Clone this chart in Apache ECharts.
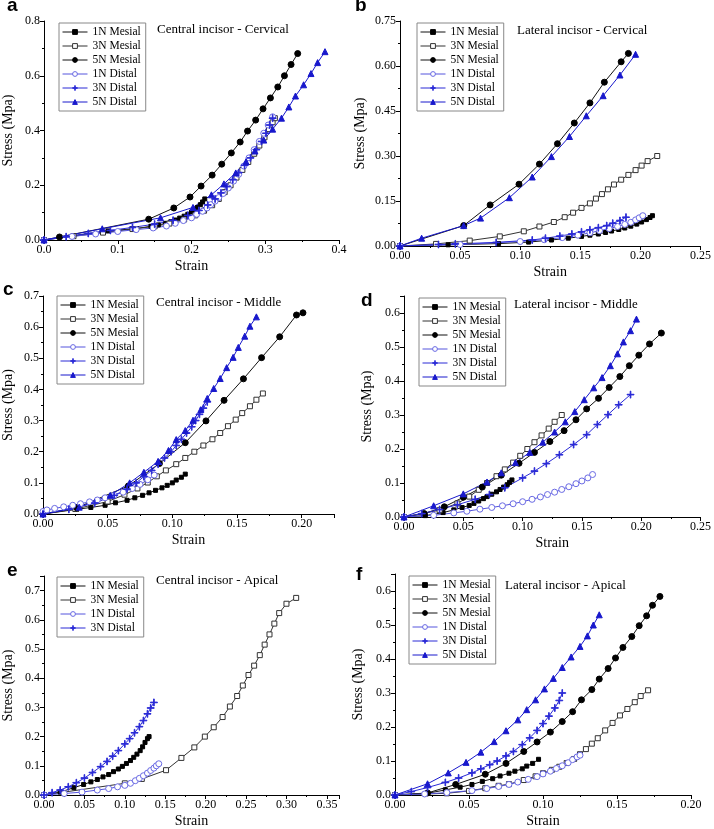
<!DOCTYPE html>
<html><head><meta charset="utf-8">
<script src="https://cdn.jsdelivr.net/npm/echarts@6/dist/echarts.min.js"></script>
<style>html,body{margin:0;padding:0;background:#fff}#c{width:714px;height:829px}</style>
</head><body><div id="c"></div>
<script>
// ---------------- DATA (strain, stress) ----------------
// a: Central incisor - Cervical
const a_1N_Mesial = [[0,0],[0.04,0.016],[0.087,0.033],[0.125,0.042],[0.145,0.05],[0.155,0.055],[0.165,0.061],[0.172,0.067],[0.178,0.073],[0.184,0.08],[0.19,0.087],[0.195,0.094],[0.2,0.102],[0.204,0.11],[0.208,0.119],[0.212,0.129],[0.215,0.139],[0.218,0.15]];
const a_3N_Mesial = [[0,0],[0.04,0.014],[0.08,0.027],[0.12,0.04],[0.15,0.05],[0.17,0.06],[0.19,0.075],[0.205,0.09],[0.217,0.107],[0.228,0.127],[0.237,0.15],[0.245,0.175],[0.253,0.2],[0.261,0.228],[0.269,0.256],[0.277,0.285],[0.285,0.315],[0.292,0.345],[0.299,0.375],[0.305,0.405],[0.31,0.43],[0.313,0.445]];
const a_5N_Mesial = [[0,0],[0.021,0.011],[0.142,0.076],[0.176,0.117],[0.198,0.157],[0.213,0.197],[0.228,0.237],[0.241,0.277],[0.254,0.318],[0.266,0.358],[0.276,0.398],[0.287,0.438],[0.297,0.479],[0.307,0.519],[0.317,0.559],[0.326,0.6],[0.335,0.641],[0.344,0.681]];
const a_1N_Distal = [[0,0],[0.038,0.013],[0.07,0.022],[0.1,0.031],[0.125,0.038],[0.148,0.044],[0.166,0.051],[0.178,0.061],[0.189,0.071],[0.2,0.081],[0.207,0.094],[0.215,0.105],[0.221,0.117],[0.226,0.129],[0.232,0.142],[0.237,0.155],[0.243,0.17],[0.25,0.19],[0.257,0.215],[0.264,0.24],[0.271,0.27],[0.278,0.3],[0.285,0.33],[0.292,0.36],[0.298,0.39],[0.304,0.42],[0.31,0.45]];
const a_3N_Distal = [[0,0],[0.03,0.012],[0.06,0.024],[0.09,0.035],[0.12,0.046],[0.15,0.058],[0.175,0.072],[0.195,0.09],[0.21,0.108],[0.222,0.128],[0.232,0.15],[0.24,0.172],[0.248,0.195],[0.256,0.22],[0.264,0.246],[0.272,0.273],[0.28,0.3],[0.288,0.33],[0.295,0.36],[0.301,0.39],[0.306,0.42],[0.31,0.445]];
const a_5N_Distal = [[0,0],[0.079,0.041],[0.158,0.081],[0.202,0.119],[0.227,0.165],[0.244,0.205],[0.26,0.245],[0.274,0.286],[0.286,0.325],[0.298,0.365],[0.31,0.405],[0.322,0.445],[0.332,0.486],[0.341,0.526],[0.352,0.567],[0.362,0.608],[0.371,0.648],[0.381,0.688]];
// b: Lateral incisor - Cervical
const b_1N_Mesial = [[0,0],[0.04,0.004],[0.082,0.008],[0.107,0.013],[0.126,0.02],[0.14,0.026],[0.151,0.032],[0.158,0.036],[0.165,0.04],[0.171,0.045],[0.176,0.05],[0.182,0.055],[0.187,0.06],[0.192,0.066],[0.197,0.073],[0.201,0.08],[0.205,0.088],[0.208,0.095],[0.21,0.101]];
const b_3N_Mesial = [[0,0],[0.03,0.007],[0.058,0.018],[0.083,0.032],[0.103,0.049],[0.116,0.065],[0.128,0.08],[0.137,0.096],[0.144,0.111],[0.151,0.127],[0.158,0.142],[0.163,0.158],[0.168,0.173],[0.173,0.189],[0.178,0.205],[0.184,0.221],[0.19,0.237],[0.196,0.253],[0.201,0.268],[0.206,0.283],[0.214,0.3]];
const b_5N_Mesial = [[0,0],[0.053,0.068],[0.075,0.137],[0.099,0.206],[0.116,0.273],[0.131,0.341],[0.145,0.41],[0.158,0.477],[0.17,0.546],[0.184,0.614],[0.19,0.642]];
const b_1N_Distal = [[0,0],[0.05,0.005],[0.1,0.015],[0.12,0.021],[0.135,0.028],[0.148,0.036],[0.158,0.044],[0.166,0.051],[0.174,0.058],[0.181,0.065],[0.187,0.072],[0.192,0.079],[0.196,0.087],[0.199,0.094],[0.202,0.101]];
const b_3N_Distal = [[0,0],[0.032,0.005],[0.046,0.007],[0.08,0.012],[0.11,0.02],[0.121,0.026],[0.133,0.033],[0.143,0.04],[0.151,0.047],[0.158,0.054],[0.165,0.061],[0.172,0.068],[0.177,0.076],[0.183,0.085],[0.188,0.096]];
const b_5N_Distal = [[0,0],[0.018,0.026],[0.053,0.068],[0.067,0.093],[0.091,0.161],[0.11,0.23],[0.126,0.298],[0.141,0.365],[0.155,0.434],[0.169,0.501],[0.183,0.57],[0.196,0.639]];
// c: Central incisor - Middle
const c_1N_Mesial = [[0,0],[0.026,0.015],[0.037,0.021],[0.048,0.028],[0.056,0.036],[0.065,0.044],[0.071,0.052],[0.077,0.06],[0.082,0.068],[0.087,0.076],[0.092,0.084],[0.096,0.092],[0.1,0.1],[0.103,0.109],[0.107,0.118],[0.11,0.128]];
const c_3N_Mesial = [[0,0],[0.025,0.016],[0.05,0.04],[0.063,0.062],[0.073,0.082],[0.081,0.101],[0.088,0.121],[0.095,0.14],[0.103,0.16],[0.11,0.18],[0.117,0.2],[0.124,0.22],[0.131,0.24],[0.137,0.26],[0.143,0.282],[0.149,0.303],[0.154,0.324],[0.16,0.346],[0.165,0.367],[0.17,0.387]];
const c_5N_Mesial = [[0,0],[0.026,0.02],[0.066,0.09],[0.09,0.162],[0.11,0.229],[0.126,0.299],[0.14,0.365],[0.155,0.434],[0.169,0.502],[0.183,0.569],[0.196,0.639],[0.201,0.646]];
const c_1N_Distal = [[0,0.008],[0.003,0.013],[0.009,0.018],[0.016,0.023],[0.023,0.028],[0.029,0.033],[0.036,0.039],[0.042,0.045],[0.048,0.052],[0.055,0.06],[0.062,0.07],[0.069,0.082],[0.075,0.095],[0.081,0.11],[0.086,0.125]];
const c_3N_Distal = [[0,0],[0.02,0.015],[0.04,0.035],[0.055,0.06],[0.065,0.08],[0.072,0.1],[0.078,0.12],[0.084,0.14],[0.089,0.16],[0.094,0.18],[0.099,0.2],[0.103,0.22],[0.107,0.24],[0.111,0.26],[0.115,0.28],[0.118,0.3],[0.121,0.32],[0.124,0.34],[0.127,0.36]];
const c_5N_Distal = [[0,0],[0.028,0.022],[0.052,0.06],[0.067,0.1],[0.078,0.134],[0.089,0.169],[0.097,0.204],[0.103,0.239],[0.11,0.268],[0.116,0.301],[0.122,0.335],[0.127,0.371],[0.132,0.403],[0.137,0.435],[0.142,0.47],[0.147,0.503],[0.151,0.535],[0.156,0.571],[0.16,0.603],[0.165,0.633]];
// d: Lateral incisor - Middle
const d_1N_Mesial = [[0,0],[0.018,0.004],[0.033,0.013],[0.042,0.021],[0.049,0.028],[0.055,0.034],[0.059,0.04],[0.063,0.047],[0.067,0.054],[0.07,0.06],[0.074,0.067],[0.078,0.074],[0.081,0.081],[0.084,0.088],[0.087,0.095],[0.089,0.102],[0.091,0.109]];
const d_3N_Mesial = [[0,0],[0.03,0.02],[0.045,0.04],[0.055,0.06],[0.063,0.08],[0.07,0.1],[0.078,0.12],[0.085,0.14],[0.092,0.16],[0.098,0.18],[0.104,0.2],[0.11,0.22],[0.116,0.24],[0.122,0.26],[0.127,0.28],[0.133,0.3]];
const d_5N_Mesial = [[0,0],[0.017,0.01],[0.034,0.03],[0.05,0.058],[0.066,0.088],[0.082,0.123],[0.097,0.158],[0.11,0.19],[0.123,0.222],[0.135,0.254],[0.145,0.286],[0.154,0.318],[0.164,0.349],[0.173,0.381],[0.182,0.413],[0.19,0.445],[0.198,0.476],[0.207,0.509],[0.217,0.541]];
const d_1N_Distal = [[0,0],[0.025,0.005],[0.042,0.012],[0.053,0.017],[0.064,0.023],[0.074,0.028],[0.083,0.033],[0.092,0.039],[0.1,0.045],[0.108,0.052],[0.115,0.059],[0.121,0.066],[0.127,0.073],[0.133,0.081],[0.139,0.089],[0.145,0.098],[0.15,0.106],[0.155,0.115],[0.159,0.125]];
const d_3N_Distal = [[0,0],[0.015,0.01],[0.03,0.022],[0.045,0.036],[0.06,0.052],[0.072,0.066],[0.085,0.086],[0.1,0.115],[0.11,0.135],[0.12,0.157],[0.131,0.183],[0.143,0.213],[0.154,0.242],[0.163,0.272],[0.172,0.301],[0.181,0.33],[0.191,0.36]];
const d_5N_Distal = [[0,0],[0.025,0.033],[0.05,0.068],[0.07,0.103],[0.082,0.13],[0.094,0.16],[0.106,0.19],[0.117,0.22],[0.127,0.25],[0.136,0.28],[0.144,0.31],[0.152,0.345],[0.16,0.38],[0.167,0.41],[0.174,0.445],[0.18,0.48],[0.185,0.515],[0.191,0.548],[0.196,0.582]];
// e: Central incisor - Apical
const e_1N_Mesial = [[0,0],[0.02,0.01],[0.037,0.025],[0.049,0.036],[0.058,0.045],[0.066,0.053],[0.073,0.062],[0.08,0.07],[0.086,0.08],[0.092,0.089],[0.097,0.098],[0.102,0.108],[0.107,0.118],[0.111,0.129],[0.115,0.14],[0.119,0.152],[0.122,0.165],[0.125,0.18],[0.128,0.193],[0.13,0.2]];
const e_3N_Mesial = [[0,0],[0.1,0.04],[0.121,0.055],[0.151,0.085],[0.17,0.127],[0.186,0.163],[0.199,0.2],[0.21,0.232],[0.221,0.267],[0.23,0.303],[0.239,0.339],[0.246,0.375],[0.253,0.411],[0.26,0.443],[0.267,0.479],[0.273,0.515],[0.279,0.55],[0.285,0.587],[0.291,0.623],[0.3,0.655],[0.312,0.675]];
const e_1N_Distal = [[0,0],[0.025,0.005],[0.047,0.01],[0.066,0.017],[0.08,0.022],[0.091,0.028],[0.1,0.033],[0.107,0.04],[0.113,0.049],[0.118,0.057],[0.123,0.066],[0.128,0.075],[0.132,0.084],[0.136,0.092],[0.139,0.1],[0.142,0.107]];
const e_3N_Distal = [[0,0],[0.01,0.008],[0.02,0.017],[0.03,0.028],[0.04,0.042],[0.05,0.058],[0.06,0.077],[0.07,0.097],[0.078,0.115],[0.085,0.133],[0.092,0.152],[0.1,0.175],[0.106,0.193],[0.112,0.213],[0.118,0.234],[0.123,0.255],[0.128,0.278],[0.132,0.298],[0.136,0.317]];
// f: Lateral incisor - Apical
const f_1N_Mesial = [[0,0],[0.022,0.005],[0.034,0.015],[0.044,0.023],[0.052,0.031],[0.059,0.04],[0.066,0.048],[0.071,0.056],[0.077,0.064],[0.081,0.07],[0.086,0.077],[0.089,0.085],[0.093,0.093],[0.097,0.105]];
const f_3N_Mesial = [[0,0],[0.035,0.005],[0.05,0.012],[0.061,0.02],[0.07,0.027],[0.077,0.032],[0.087,0.044],[0.095,0.055],[0.1,0.064],[0.106,0.074],[0.111,0.083],[0.116,0.094],[0.121,0.106],[0.125,0.12],[0.129,0.135],[0.133,0.151],[0.137,0.167],[0.142,0.19],[0.147,0.212],[0.152,0.234],[0.157,0.253],[0.162,0.273],[0.166,0.291],[0.171,0.308]];
const f_5N_Mesial = [[0,0],[0.022,0.006],[0.041,0.031],[0.061,0.061],[0.075,0.093],[0.087,0.128],[0.096,0.156],[0.105,0.185],[0.113,0.216],[0.12,0.245],[0.126,0.28],[0.133,0.31],[0.138,0.341],[0.144,0.372],[0.149,0.403],[0.154,0.434],[0.16,0.466],[0.165,0.498],[0.17,0.527],[0.174,0.558],[0.179,0.584]];
const f_1N_Distal = [[0,0],[0.02,0.003],[0.035,0.007],[0.052,0.013],[0.062,0.019],[0.07,0.025],[0.077,0.031],[0.083,0.038],[0.09,0.046],[0.096,0.054],[0.1,0.062],[0.105,0.07],[0.109,0.078],[0.113,0.086],[0.117,0.095],[0.12,0.104],[0.123,0.112],[0.125,0.117]];
const f_3N_Distal = [[0,0],[0.011,0.01],[0.022,0.022],[0.034,0.037],[0.043,0.05],[0.052,0.065],[0.058,0.077],[0.064,0.089],[0.069,0.1],[0.075,0.115],[0.08,0.128],[0.086,0.148],[0.091,0.168],[0.096,0.19],[0.1,0.21],[0.104,0.232],[0.108,0.256],[0.111,0.278],[0.113,0.3]];
const f_5N_Distal = [[0,0],[0.022,0.033],[0.036,0.065],[0.048,0.096],[0.058,0.126],[0.067,0.157],[0.075,0.189],[0.083,0.221],[0.089,0.251],[0.095,0.28],[0.101,0.312],[0.107,0.343],[0.113,0.375],[0.119,0.406],[0.125,0.437],[0.13,0.468],[0.134,0.5],[0.138,0.53]];

// Axis ranges [min, max, interval, decimals]
const a_xAxis = [0, 0.4, 0.1, 1],   a_yAxis = [0, 0.8, 0.2, 1];
const b_xAxis = [0, 0.25, 0.05, 2], b_yAxis = [0, 0.75, 0.15, 2];
const c_xAxis = [0, 0.225, 0.05, 2], c_yAxis = [0, 0.7, 0.1, 1];
const d_xAxis = [0, 0.25, 0.05, 2], d_yAxis = [0, 0.65, 0.1, 1];
const e_xAxis = [0, 0.365, 0.05, 2], e_yAxis = [0, 0.75, 0.1, 1];
const f_xAxis = [0, 0.2, 0.05, 2],  f_yAxis = [0, 0.65, 0.1, 1];

const seriesNames = ['1N Mesial','3N Mesial','5N Mesial','1N Distal','3N Distal','5N Distal'];
const titles = ['Central incisor - Cervical','Lateral incisor - Cervical','Central incisor - Middle','Lateral incisor - Middle','Central incisor - Apical','Lateral incisor - Apical'];
const letters = ['a','b','c','d','e','f'];

const panelData = [
  {names: seriesNames, data: [a_1N_Mesial,a_3N_Mesial,a_5N_Mesial,a_1N_Distal,a_3N_Distal,a_5N_Distal], x: a_xAxis, y: a_yAxis},
  {names: seriesNames, data: [b_1N_Mesial,b_3N_Mesial,b_5N_Mesial,b_1N_Distal,b_3N_Distal,b_5N_Distal], x: b_xAxis, y: b_yAxis},
  {names: seriesNames, data: [c_1N_Mesial,c_3N_Mesial,c_5N_Mesial,c_1N_Distal,c_3N_Distal,c_5N_Distal], x: c_xAxis, y: c_yAxis},
  {names: seriesNames, data: [d_1N_Mesial,d_3N_Mesial,d_5N_Mesial,d_1N_Distal,d_3N_Distal,d_5N_Distal], x: d_xAxis, y: d_yAxis},
  {names: ['1N Mesial','3N Mesial','1N Distal','3N Distal'], data: [e_1N_Mesial,e_3N_Mesial,e_1N_Distal,e_3N_Distal], x: e_xAxis, y: e_yAxis},
  {names: seriesNames, data: [f_1N_Mesial,f_3N_Mesial,f_5N_Mesial,f_1N_Distal,f_3N_Distal,f_5N_Distal], x: f_xAxis, y: f_yAxis}
];

// ---------------- LAYOUT / STYLE ----------------
const layout = [
  {grid:{left:43,top:21,width:296,height:219},  yGap:29, title:[157,30], letter:[7,15],   legend:[59,23]},
  {grid:{left:400,top:21,width:304,height:225}, yGap:33, title:[517,31], letter:[355,15], legend:[417,23]},
  {grid:{left:42,top:296,width:292,height:218}, yGap:28, title:[156,303], letter:[3,299], legend:[57,296]},
  {grid:{left:404,top:296,width:298,height:221},yGap:30, title:[514,305], letter:[361,310],legend:[419,298]},
  {grid:{left:43,top:576,width:296,height:220}, yGap:29, title:[156,581], letter:[7,580], legend:[57,577]},
  {grid:{left:395,top:574,width:296,height:222},yGap:30, title:[505,586], letter:[356,584],legend:[409,576]}
];
const SERIF = '"Liberation Serif","Times New Roman",serif';
const PLUS = 'path://M4.55,0H5.45V10H4.55Z M0,4.55H10V5.45H0Z';
const STY = {
  '1N Mesial': {symbol:'rect', size:4, fill:'#000', border:'#000', line:'#111'},
  '3N Mesial': {symbol:'rect', size:5, fill:'#fff', border:'#333', line:'#333'},
  '5N Mesial': {symbol:'circle', size:6, fill:'#000', border:'#000', line:'#111'},
  '1N Distal': {symbol:'circle', size:6, fill:'#fff', border:'#6a6ae4', line:'#5555dd'},
  '3N Distal': {symbol:PLUS, size:7, fill:'#2a2ad6', border:'#2a2ad6', line:'#2a2ad6'},
  '5N Distal': {symbol:'triangle', size:6, fill:'#1818cc', border:'#1818cc', line:'#1818cc'}
};

function fmt(ax){
  return function(v){
    const k = v / ax[2];
    if (Math.abs(k - Math.round(k)) > 1e-6) return '';
    return v.toFixed(ax[3]);
  };
}
function axisCommon(ax, gi, name, gap){
  return {
    type:'value', gridIndex:gi, min:ax[0], max:ax[1], interval:ax[2],
    axisLine:{show:true, onZero:false, lineStyle:{color:'#000', width:1}},
    axisTick:{show:true, inside:false, length:4, lineStyle:{color:'#000', width:1}},
    minorTick:{show:true, splitNumber:2, length:2, lineStyle:{color:'#000', width:1}},
    splitLine:{show:false}, minorSplitLine:{show:false},
    axisLabel:{show:true, formatter:fmt(ax), fontFamily:SERIF, fontSize:12, color:'#000', margin:4, hideOverlap:false},
    name:name, nameLocation:'middle', nameGap:gap,
    nameTextStyle:{fontFamily:SERIF, fontSize:14, color:'#000'}
  };
}

const grids = [], xAxes = [], yAxes = [], series = [], legends = [], graphics = [];
panelData.forEach((p, i) => {
  const L = layout[i];
  grids.push(L.grid);
  xAxes.push(axisCommon(p.x, i, 'Strain', 19));
  yAxes.push(axisCommon(p.y, i, 'Stress (Mpa)', L.yGap));
  p.names.forEach((nm, j) => {
    const s = STY[nm];
    series.push({
      type:'line', name:nm, xAxisIndex:i, yAxisIndex:i, data:p.data[j],
      symbol:s.symbol, symbolSize:s.size, showSymbol:true, showAllSymbol:true,
      lineStyle:{color:s.line, width:1},
      itemStyle:{color:s.fill, borderColor:s.border, borderWidth:1},
      emphasis:{disabled:true}, animation:false, clip:true
    });
  });
  legends.push({
    orient:'vertical', left:L.legend[0], top:L.legend[1], data:p.names,
    itemWidth:25, itemHeight:6, itemGap:2, padding:[3,5,3,3],
    itemStyle:{borderWidth:1}, lineStyle:{width:1},
    borderColor:'#888', borderWidth:1, backgroundColor:'#fff', selectedMode:false,
    textStyle:{fontFamily:SERIF, fontSize:11.5, color:'#000', lineHeight:12}
  });
  graphics.push({type:'text', x:L.title[0], y:L.title[1],
    style:{text:titles[i], fontFamily:SERIF, fontSize:13, fill:'#000', align:'left', verticalAlign:'middle'}});
  graphics.push({type:'text', x:L.letter[0], y:L.letter[1],
    style:{text:letters[i], fontFamily:'"Liberation Sans",Arial,sans-serif', fontWeight:'bold', fontSize:19, fill:'#000', align:'left', verticalAlign:'bottom'}});
});

const chart = echarts.init(document.getElementById('c'), null, {renderer:'canvas'});
chart.setOption({
  backgroundColor:'#fff', animation:false,
  grid:grids, xAxis:xAxes, yAxis:yAxes, series:series, legend:legends, graphic:graphics
});
</script></body></html>
